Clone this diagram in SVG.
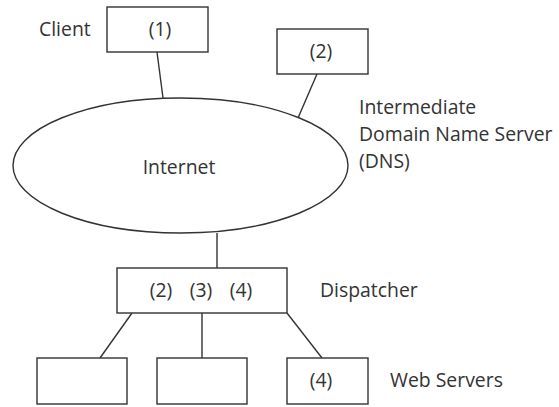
<svg xmlns="http://www.w3.org/2000/svg" width="559" height="407" viewBox="0 0 559 407">
<style>
.box{fill:#fff;stroke:#333;stroke-width:1.4}
.ln{stroke:#333;stroke-width:1.4;fill:none}
text{font-family:"Open Sans","Noto Sans",sans-serif;font-size:19.4px;fill:#333}
.c{text-anchor:middle}
</style>
<rect width="559" height="407" fill="#fff"/>
<g id="connectors">
<line class="ln" x1="157" y1="52" x2="163" y2="98"/>
<line class="ln" x1="317" y1="74" x2="298" y2="118"/>
<line class="ln" x1="217" y1="233" x2="217" y2="268"/>
<line class="ln" x1="132" y1="313" x2="100" y2="358"/>
<line class="ln" x1="202" y1="313" x2="202" y2="358"/>
<line class="ln" x1="287" y1="313" x2="322" y2="358"/>
</g>
<g id="client">
<rect class="box" x="107" y="7" width="101" height="45"/>
<text class="c" x="160" y="36">(1)</text>
<text x="39" y="36">Client</text>
</g>
<g id="dns">
<rect class="box" x="277" y="29" width="91" height="45"/>
<text class="c" x="321" y="58">(2)</text>
<text x="359" y="114">Intermediate</text>
<text x="359" y="141">Domain Name Server</text>
<text x="359" y="168">(DNS)</text>
</g>
<g id="internet">
<ellipse class="ln" cx="180.5" cy="165.5" rx="167.5" ry="67.5"/>
<text class="c" x="179" y="174">Internet</text>
</g>
<g id="dispatcher">
<rect class="box" x="117" y="268" width="170" height="45"/>
<text class="c" x="161" y="297">(2)</text>
<text class="c" x="201" y="297">(3)</text>
<text class="c" x="241" y="297">(4)</text>
<text x="320" y="297">Dispatcher</text>
</g>
<g id="web1">
<rect class="box" x="37" y="358" width="90" height="46"/>
</g>
<g id="web2">
<rect class="box" x="157" y="358" width="90" height="46"/>
</g>
<g id="web3">
<rect class="box" x="287" y="358" width="81" height="46"/>
<text class="c" x="321" y="387">(4)</text>
<text x="390" y="387">Web Servers</text>
</g>
</svg>
